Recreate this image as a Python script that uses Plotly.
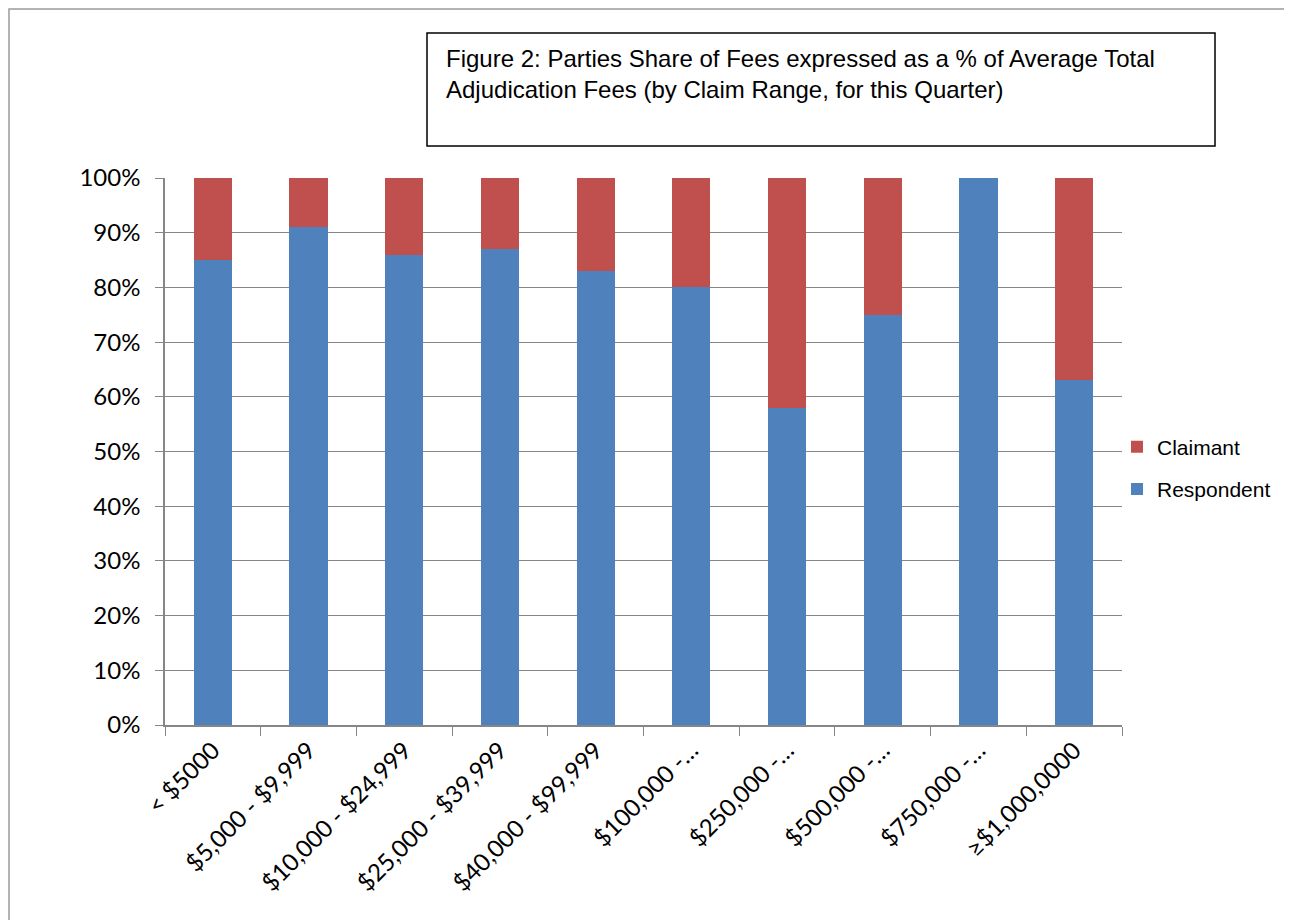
import plotly.graph_objects as go

categories = ["< $5000", "$5,000 - $9,999", "$10,000 - $24,999", "$25,000 - $39,999",
              "$40,000 - $99,999", "$100,000 -…", "$250,000 -…", "$500,000 -…",
              "$750,000 -…", "≥$1,000,0000"]
respondent = [85, 91, 86, 87, 83, 80, 58, 75, 100, 63]
claimant = [15, 9, 14, 13, 17, 20, 42, 25, 0, 37]
y_ticks = [0, 10, 20, 30, 40, 50, 60, 70, 80, 90, 100]
y_labels = [f"{v}%" for v in y_ticks]
title_text = ("Figure 2: Parties Share of Fees expressed as a % of Average Total<br>"
              "Adjudication Fees (by Claim Range, for this Quarter)")

OFF = 8  # page body margin
W, H = 1292 - OFF, 920 - OFF
L, R, T, B = 165 - OFF, 1122 - OFF, 178 - OFF, 725 - OFF

def px(x):
    return (x - OFF - L) / (R - L)

def py(y):
    return (B - (y - OFF)) / (B - T)

fig = go.Figure()
fig.add_trace(go.Bar(x=categories, y=respondent, name="Respondent",
                     marker=dict(color="#4F81BD", line=dict(width=0)),
                     legendgroup="r", legendrank=2))
fig.add_trace(go.Bar(x=categories, y=claimant, name="Claimant",
                     marker=dict(color="#C0504D", line=dict(width=0)),
                     legendgroup="c", legendrank=1))

fig.update_layout(
    width=W, height=H,
    margin=dict(l=L, r=W - R, t=T, b=H - B, autoexpand=False),
    barmode="stack", bargap=0.6,
    paper_bgcolor="white", plot_bgcolor="white",
    font=dict(family="Lato", size=24, color="black"),
    showlegend=True,
    legend=dict(x=px(1117), y=py(468), xanchor="left", yanchor="middle",
                traceorder="grouped", tracegroupgap=12, itemwidth=30,
                font=dict(family="Liberation Sans", size=21, color="black"),
                bgcolor="rgba(0,0,0,0)"),
    xaxis=dict(type="category", showline=True, linecolor="#868686", linewidth=1.5,
               ticks="outside", tickson="boundaries", ticklen=9, tickcolor="#868686",
               tickangle=-45, tickfont=dict(family="Lato", size=24, color="black"),
               showgrid=False, range=[-0.5, 9.5]),
    yaxis=dict(range=[0, 100], tickvals=y_ticks, ticktext=y_labels,
               showline=True, linecolor="#868686", linewidth=1.5,
               ticks="outside", ticklen=8, tickcolor="#868686", ticklabelstandoff=10,
               showgrid=True, gridcolor="#868686", gridwidth=1,
               zeroline=False, tickfont=dict(family="Lato", size=24, color="black")),
    shapes=[
        dict(type="rect", xref="paper", yref="paper",
             x0=px(9), x1=px(1290), y0=py(960), y1=py(9),
             line=dict(color="#9a9a9a", width=1.5), fillcolor="rgba(0,0,0,0)", layer="below"),
        dict(type="rect", xref="paper", yref="paper",
             x0=px(427), x1=px(1215), y0=py(146), y1=py(33),
             line=dict(color="black", width=1.5), fillcolor="white"),
    ],
    annotations=[
        dict(text=title_text, xref="paper", yref="paper", x=px(444), y=py(43),
             xanchor="left", yanchor="top", align="left", showarrow=False,
             font=dict(family="Liberation Sans", size=24, color="black")),
    ],
)

fig.write_html("out.html")
